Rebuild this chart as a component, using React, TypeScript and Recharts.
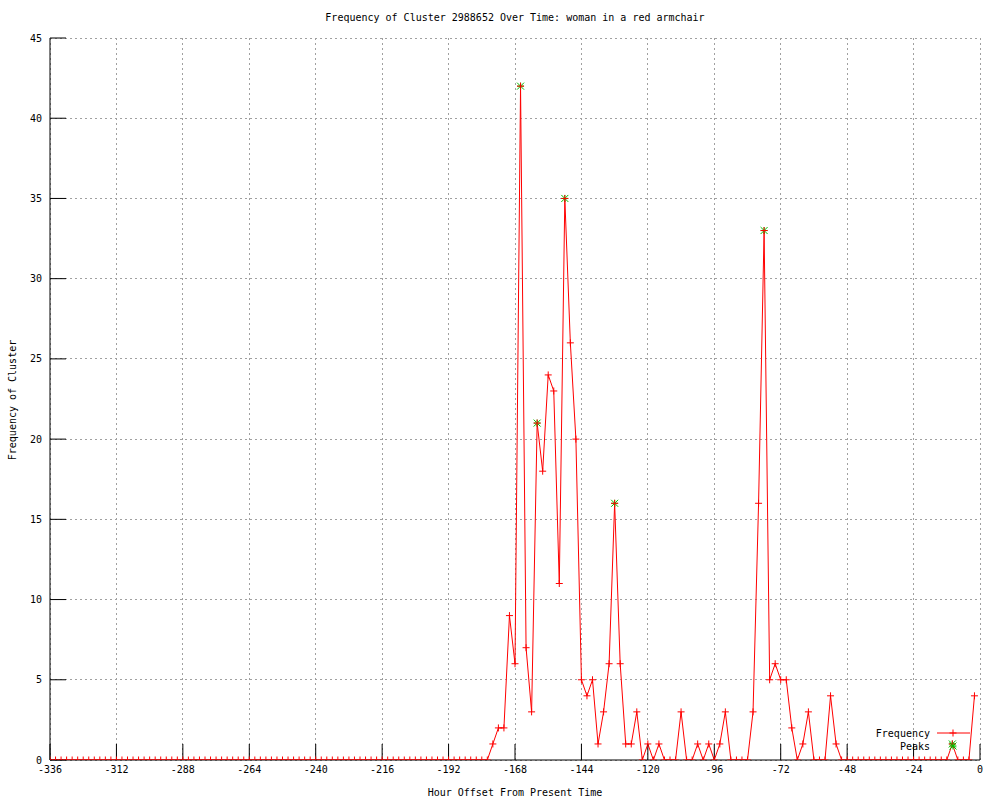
import React from "react";
import {
  LineChart,
  Line,
  XAxis,
  YAxis,
  CartesianGrid,
  Legend,
} from "recharts";

// hours run from -336 to -2 in steps of 2
const HOUR_START = -336;
const HOUR_STEP = 2;

// frequency per 2h bin, oldest first
const frequency = [
  0, 0, 0, 0, 0, 0, 0, 0, 0, 0, 0, 0, 0, 0, 0, 0, 0, 0, 0, 0,
  0, 0, 0, 0, 0, 0, 0, 0, 0, 0, 0, 0, 0, 0, 0, 0, 0, 0, 0, 0,
  0, 0, 0, 0, 0, 0, 0, 0, 0, 0, 0, 0, 0, 0, 0, 0, 0, 0, 0, 0,
  0, 0, 0, 0, 0, 0, 0, 0, 0, 0, 0, 0, 0, 0, 0, 0, 0, 0, 0, 0,
  // -176 ..
  1, 2, 2, 9, 6, 42, 7, 3, 21, 18,
  24, 23, 11, 35, 26, 20, 5, 4, 5, 1,
  3, 6, 16, 6, 1, 1, 3, 0, 1, 0,
  1, 0, 0, 0, 3, 0, 0, 1, 0, 1,
  0, 1, 3, 0, 0, 0, 0, 3, 16, 33,
  5, 6, 5, 5, 2, 0, 1, 3, 0, 0,
  0, 4, 1, 0,
  // -48 .. -12
  0, 0, 0, 0, 0, 0, 0, 0, 0, 0, 0, 0, 0, 0, 0, 0, 0, 0, 0,
  // -10 .. -2
  1, 0, 0, 0, 4,
];

const peakHours = [-166, -160, -150, -132, -78, -10];

const xTicks = [-336, -312, -288, -264, -240, -216, -192, -168, -144, -120, -96, -72, -48, -24, 0];
const yTicks = [0, 5, 10, 15, 20, 25, 30, 35, 40, 45];

const data = frequency.map((v, i) => {
  const hour = HOUR_START + i * HOUR_STEP;
  return {
    hour,
    freq: v,
    peak: peakHours.includes(hour) ? v : null,
  };
});

const FONT = '"DejaVu Sans Mono", monospace';
const RED = "#ff0000";
const GREEN = "#00c000";
const TICK = { fill: "#000", fontSize: 10, fontFamily: FONT };

// eslint-disable-next-line @typescript-eslint/no-explicit-any
const PlusDot = (props: any) => {
  const { cx, cy, index } = props;
  if (cx == null || cy == null) return <g key={`p${index}`} />;
  const s = 3.5;
  return (
    <path
      key={`p${index}`}
      d={`M${cx - s},${cy}H${cx + s}M${cx},${cy - s}V${cy + s}`}
      stroke={RED}
      strokeWidth={1}
      fill="none"
    />
  );
};

// eslint-disable-next-line @typescript-eslint/no-explicit-any
const StarDot = (props: any) => {
  const { cx, cy, index, payload } = props;
  if (cx == null || cy == null || payload?.peak == null) return <g key={`s${index}`} />;
  const s = 3.5;
  return (
    <path
      key={`s${index}`}
      d={`M${cx - s},${cy}H${cx + s}M${cx},${cy - s}V${cy + s}M${cx - s},${cy - s}L${cx + s},${cy + s}M${cx - s},${cy + s}L${cx + s},${cy - s}`}
      stroke={GREEN}
      strokeWidth={1}
      fill="none"
    />
  );
};

const LegendBox = () => (
  <svg width={120} height={30} style={{ display: "block" }}>
    <text x={70} y={9} textAnchor="end" dominantBaseline="central" fontSize={10} fontFamily={FONT} fill="#000">
      Frequency
    </text>
    <line x1={77} x2={110} y1={9} y2={9} stroke={RED} />
    <path d="M89.5,9H96.5M93,5.5V12.5" stroke={RED} fill="none" />
    <text x={70} y={22} textAnchor="end" dominantBaseline="central" fontSize={10} fontFamily={FONT} fill="#000">
      Peaks
    </text>
    <path
      d="M89.5,22H96.5M93,18.5V25.5M89.5,18.5L96.5,25.5M89.5,25.5L96.5,18.5"
      stroke={GREEN}
      fill="none"
    />
  </svg>
);

export default function App() {
  return (
    <div
      style={{
        position: "absolute",
        left: 0,
        top: 0,
        width: 1000,
        height: 800,
        background: "#fff",
        fontFamily: FONT,
      }}
    >
      <div
        style={{
          position: "absolute",
          left: 0,
          width: 1030,
          top: 12,
          textAlign: "center",
          fontSize: 10,
          lineHeight: "12px",
        }}
      >
        Frequency of Cluster 2988652 Over Time: woman in a red armchair
      </div>
      <div
        style={{
          position: "absolute",
          left: 0,
          width: 1030,
          top: 787,
          textAlign: "center",
          fontSize: 10,
          lineHeight: "12px",
        }}
      >
        Hour Offset From Present Time
      </div>
      <div
        style={{
          position: "absolute",
          left: 13 - 100,
          top: 400 - 6,
          width: 200,
          height: 12,
          textAlign: "center",
          fontSize: 10,
          lineHeight: "12px",
          transform: "rotate(-90deg)",
        }}
      >
        Frequency of Cluster
      </div>
      <div style={{ position: "absolute", left: 0, top: 0 }}>
        <LineChart
          width={1000}
          height={800}
          data={data}
          margin={{ top: 38, right: 20, bottom: 10, left: 0 }}
        >
          <CartesianGrid
            stroke="#a0a0a0"
            strokeDasharray="2 3"
            horizontalValues={yTicks}
            verticalValues={xTicks}
            shapeRendering="crispEdges"
          />
          <XAxis
            dataKey="hour"
            type="number"
            domain={[-336, 0]}
            ticks={xTicks}
            height={30}
            tickSize={-16}
            tickMargin={22}
            tick={TICK}
            stroke="#000"
            interval={0}
            allowDataOverflow
          />
          <XAxis
            xAxisId="top"
            dataKey="hour"
            type="number"
            orientation="top"
            domain={[-336, 0]}
            ticks={xTicks}
            height={0}
            tickSize={-16}
            tick={false}
            stroke="#000"
            interval={0}
            allowDataOverflow
          />
          <YAxis
            domain={[0, 45]}
            ticks={yTicks}
            width={50}
            tickSize={-16}
            tickMargin={24}
            tick={TICK}
            stroke="#000"
            interval={0}
            allowDataOverflow
          />
          <YAxis
            yAxisId="right"
            orientation="right"
            domain={[0, 45]}
            ticks={yTicks}
            width={0}
            tickSize={-16}
            tick={false}
            stroke="#000"
            interval={0}
            allowDataOverflow
          />
          <Line
            dataKey="peak"
            stroke="none"
            dot={StarDot}
            activeDot={false}
            legendType="none"
            isAnimationActive={false}
          />
          <Line
            type="linear"
            dataKey="freq"
            stroke={RED}
            strokeWidth={1}
            dot={PlusDot}
            activeDot={false}
            isAnimationActive={false}
          />
          <Legend
            layout="horizontal"
            verticalAlign="middle"
            align="center"
            content={LegendBox}
            wrapperStyle={{ position: "absolute", left: 860, top: 724, width: 120, height: 30 }}
          />
        </LineChart>
      </div>
    </div>
  );
}
